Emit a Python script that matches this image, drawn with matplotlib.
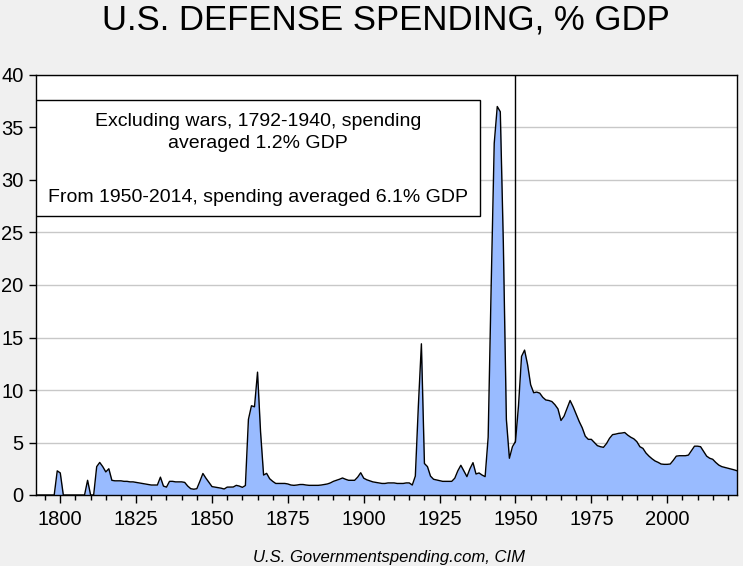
import numpy as np
import matplotlib.pyplot as plt
from matplotlib.patches import Rectangle
from matplotlib.ticker import MultipleLocator

# defense spending, % of GDP, one value per year
years = np.arange(1792, 2024)
spend_1792_1849 = [0, 0, 0, 0, 0, 0, 0, 2.3, 2.1, 0,
                   0, 0, 0, 0, 0, 0, 0, 1.4, 0, 0,
                   2.7, 3.1, 2.7, 2.2, 2.5, 1.4, 1.35, 1.35, 1.35, 1.3,
                   1.3, 1.25, 1.25, 1.2, 1.15, 1.1, 1.05, 1.0, 0.95, 0.95,
                   0.95, 1.7, 0.85, 0.75, 1.3, 1.3, 1.25, 1.25, 1.25, 1.2,
                   0.85, 0.6, 0.55, 0.6, 1.3, 2.05, 1.6, 1.2]
spend_1850_1899 = [0.8, 0.75, 0.7, 0.65, 0.57, 0.75, 0.76, 0.76, 0.92, 0.85,
                   0.73, 0.9, 7.2, 8.5, 8.4, 11.7, 6.0, 1.9, 2.06, 1.55,
                   1.3, 1.1, 1.1, 1.1, 1.1, 1.05, 0.95, 0.92, 0.95, 1.0,
                   1.0, 0.95, 0.92, 0.92, 0.92, 0.92, 0.95, 1.0, 1.05, 1.15,
                   1.3, 1.4, 1.5, 1.62, 1.5, 1.4, 1.4, 1.4, 1.7, 2.12]
spend_1900_1949 = [1.6, 1.45, 1.35, 1.25, 1.2, 1.15, 1.1, 1.1, 1.15, 1.15,
                   1.15, 1.1, 1.1, 1.1, 1.15, 1.15, 0.95, 1.8, 8.5, 14.4,
                   3.0, 2.7, 1.8, 1.5, 1.43, 1.35, 1.3, 1.3, 1.3, 1.3,
                   1.6, 2.3, 2.83, 2.3, 1.75, 2.5, 3.08, 2.0, 2.1, 1.9,
                   1.75, 5.5, 20.0, 33.5, 37.0, 36.5, 24.0, 7.2, 3.5, 4.6]
spend_1950_1999 = [5.1, 8.5, 13.2, 13.8, 12.4, 10.5, 9.74, 9.8, 9.7, 9.3,
                   9.05, 9.0, 8.9, 8.6, 8.2, 7.1, 7.5, 8.25, 9.0, 8.4,
                   7.7, 7.0, 6.4, 5.6, 5.3, 5.3, 5.0, 4.7, 4.6, 4.54,
                   4.9, 5.4, 5.75, 5.8, 5.87, 5.9, 5.95, 5.7, 5.5, 5.35,
                   5.08, 4.6, 4.44, 4.0, 3.7, 3.45, 3.24, 3.11, 2.95, 2.92]
spend_2000_2023 = [2.92, 2.95, 3.3, 3.7, 3.74, 3.74, 3.74, 3.8, 4.22, 4.65,
                   4.65, 4.6, 4.15, 3.7, 3.5, 3.4, 3.1, 2.85, 2.7, 2.62,
                   2.55, 2.48, 2.4, 2.31]
spending = np.array(spend_1792_1849 + spend_1850_1899 + spend_1900_1949
                    + spend_1950_1999 + spend_2000_2023)

box_lines = ['Excluding wars, 1792-1940, spending',
             'averaged 1.2% GDP',
             'From 1950-2014, spending averaged 6.1% GDP']

plt.rcParams['font.family'] = ['Liberation Sans', 'DejaVu Sans']

fig = plt.figure(figsize=(7.43, 5.66), dpi=100, facecolor='#f0f0f0')
ax = fig.add_axes([36/743, 1-495/566, 701/743, 420/566])
ax.set_facecolor('white')

ax.axvline(1950, color='black', lw=1, zorder=2)
ax.fill_between(years, spending, 0, color='#99bbff', lw=0, zorder=3)
ax.plot(years, spending, color='black', lw=1, zorder=4)

ax.set_xlim(1792, 2023)
ax.set_ylim(0, 40)
ax.yaxis.set_major_locator(MultipleLocator(5))
ax.xaxis.set_major_locator(MultipleLocator(25))
ax.xaxis.set_minor_locator(MultipleLocator(5))
ax.grid(axis='y', color='#c8c8c8', lw=1, zorder=1)
ax.set_axisbelow(True)

ax.tick_params(axis='y', direction='out', length=5, width=1, labelsize=14.5, pad=4)
ax.tick_params(axis='x', which='major', direction='out', length=6, width=1, labelsize=14.5, pad=5)
ax.tick_params(axis='x', which='minor', direction='out', length=3.5, width=1)
for s in ax.spines.values():
    s.set_color('black')
    s.set_linewidth(1)
    s.set_zorder(6)

# note box
ax.add_patch(Rectangle((0, 0.664), 0.633, 0.276, transform=ax.transAxes,
                       facecolor='white', edgecolor='black', lw=1, zorder=7))
ax.text(0.3167, 0.890, box_lines[0], transform=ax.transAxes, ha='center', va='center', fontsize=14, zorder=8)
ax.text(0.3167, 0.838, box_lines[1], transform=ax.transAxes, ha='center', va='center', fontsize=14, zorder=8)
ax.text(0.3167, 0.7095, box_lines[2], transform=ax.transAxes, ha='center', va='center', fontsize=14, zorder=8)

fig.text(386/743, 1-20/566, 'U.S. DEFENSE SPENDING, % GDP', ha='center', va='center', fontsize=25)
fig.text(389/743, 1-557.5/566, 'U.S. Governmentspending.com, CIM', ha='center', va='center',
         fontsize=12, style='italic')

fig.savefig('out.png', dpi=100, facecolor=fig.get_facecolor())
